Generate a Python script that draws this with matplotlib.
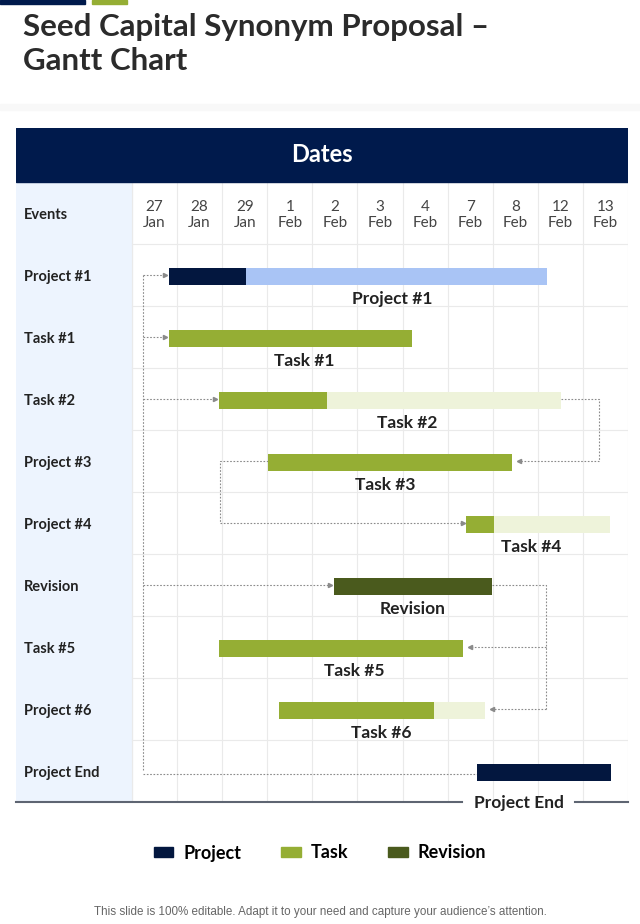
import matplotlib
matplotlib.use("Agg")
import matplotlib.pyplot as plt
from matplotlib.patches import Rectangle, Patch

plt.rcParams["font.family"] = ["Lato", "DejaVu Sans"]

# ---- data (column units: 0 = left edge of "27 Jan") ----
dates = ["27\nJan", "28\nJan", "29\nJan", "1\nFeb", "2\nFeb", "3\nFeb",
         "4\nFeb", "7\nFeb", "8\nFeb", "12\nFeb", "13\nFeb"]
rows = ["Project #1", "Task #1", "Task #2", "Project #3", "Project #4",
        "Revision", "Task #5", "Project #6", "Project End"]
bar_labels = ["Project #1", "Task #1", "Task #2", "Task #3", "Task #4",
              "Revision", "Task #5", "Task #6", "Project End"]
kinds = ["project", "task", "task", "task", "task", "revision", "task",
         "task", "project"]
bar_start = [0.82, 0.82, 1.93, 3.02, 7.41, 4.48, 1.93, 3.26, 7.65]
bar_done = [2.53, 6.21, 4.32, 8.43, 8.03, 7.98, 7.34, 6.70, 10.62]
bar_end = [9.20, 6.21, 9.51, 8.43, 10.60, 7.98, 7.34, 7.83, 10.62]
label_x = [5.77, 3.81, 6.10, 5.61, 8.85, 6.23, 4.92, 5.52, 8.58]

NAVY = "#001A4C"
done_col = {"project": "#03173F", "task": "#95AE34", "revision": "#4A5A1D"}
rest_col = {"project": "#A9C4F5", "task": "#EEF3DA", "revision": "#4A5A1D"}
GRID = "#EAEAEA"
LINK = "#8A8A8A"

fig = plt.figure(figsize=(6.4, 9.24), dpi=100)
W, H = 640, 924

# decorations on top
fig.patches.append(Rectangle((0, 1 - 4 / H), 85 / W, 4 / H, transform=fig.transFigure,
                             color=NAVY, zorder=0))
fig.patches.append(Rectangle((92 / W, 1 - 4 / H), 35 / W, 4 / H, transform=fig.transFigure,
                             color="#95AE34", zorder=0))
fig.patches.append(Rectangle((0, 1 - 110 / H), 1, 6 / H, transform=fig.transFigure,
                             color="#F8F8F8", zorder=0))
fig.text(23 / W, 1 - 27 / H, "Seed Capital Synonym Proposal \u2013", fontsize=22.5,
         fontweight="bold", color="#2B2B2B", va="center", ha="left")
fig.text(23 / W, 1 - 61 / H, "Gantt Chart", fontsize=22.5,
         fontweight="bold", color="#2B2B2B", va="center", ha="left")

LW = 116 / 45.09
ax = fig.add_axes([16 / W, 1 - 802 / H, 612 / W, 674 / H])
ax.set_xlim(-LW, 11)
ax.set_ylim(9, -1.871)
ax.axis("off")

# header band
ax.add_patch(Rectangle((-LW, -1.871), 11 + LW, 0.871, color=NAVY, zorder=1))
ax.text((11 - LW) / 2, -1.436, "Dates", color="white", fontsize=17,
        fontweight="bold", ha="center", va="center", zorder=2)
# label column
ax.add_patch(Rectangle((-LW, -1), LW, 10, color="#EDF4FE", zorder=0))
# grid
for i in range(12):
    ax.plot([i, i], [-1, 9], color=GRID, lw=0.8, zorder=0.5)
for r in range(9):
    ax.plot([0, 11], [r, r], color=GRID, lw=0.8, zorder=0.5)

ax.text(-LW + 8 / 45.09, -0.47, "Events", fontsize=10.5, fontweight="bold",
        color="#222222", ha="left", va="center")
for i, d in enumerate(dates):
    ax.text(i + 0.5, -0.47, d, fontsize=11, color="#444444", ha="center",
            va="center", linespacing=1.2)

BH = 0.27
for r, name in enumerate(rows):
    yc = r + 0.5
    ax.text(-LW + 8 / 45.09, yc + 0.04, name, fontsize=10.5, fontweight="bold",
            color="#222222", ha="left", va="center")
    k = kinds[r]
    ax.barh(yc + 0.02, bar_done[r] - bar_start[r], left=bar_start[r], height=BH,
            color=done_col[k], zorder=3)
    if bar_end[r] > bar_done[r]:
        ax.barh(yc + 0.02, bar_end[r] - bar_done[r], left=bar_done[r], height=BH,
                color=rest_col[k], zorder=3)
    if r < 8:
        ax.text(label_x[r], yc + 0.39, bar_labels[r], fontsize=12.5,
                fontweight="bold", color="#222222", ha="center", va="center", zorder=4)

# bottom rule with "Project End"
ax.plot([-LW, 7.31], [9, 9], color="#5E6572", lw=1.5, clip_on=False, zorder=4)
ax.plot([9.82, 11], [9, 9], color="#5E6572", lw=1.5, clip_on=False, zorder=4)
ax.text(label_x[8], 9.02, bar_labels[8], fontsize=12.5, fontweight="bold",
        color="#222222", ha="center", va="center", zorder=4)


def link(xs, ys, arrow=None):
    ax.plot(xs, ys, color=LINK, lw=0.8, ls=(0, (1.5, 1.5)), zorder=2)
    if arrow:
        ax.plot(xs[-1], ys[-1], marker=arrow, ms=3, color=LINK, zorder=2)


cy = [r + 0.5 for r in range(9)]
trunk = 0.24
link([trunk, trunk], [cy[0], cy[8]])
for r in [0, 1, 2, 5]:
    link([trunk, bar_start[r] - 0.08], [cy[r], cy[r]], ">")
link([trunk, bar_start[8]], [cy[8] + 0.05, cy[8] + 0.05])
# Task #2 -> Task #3
x2 = 10.36
link([bar_end[2], x2, x2, bar_end[3] + 0.16], [cy[2], cy[2], cy[3], cy[3]], "<")
# Task #3 -> Task #4
x3 = 1.95
link([bar_start[3], x3, x3, bar_start[4] - 0.08], [cy[3], cy[3], cy[4], cy[4]], ">")
# Revision -> Task #5 / Task #6
x5 = 9.18
link([bar_end[5], x5, x5], [cy[5], cy[5], cy[7]])
link([x5, bar_end[6] + 0.16], [cy[6], cy[6]], "<")
link([x5, bar_end[7] + 0.16], [cy[7], cy[7]], "<")

handles = [Patch(color=done_col[k]) for k in ["project", "task", "revision"]]
fig.legend(handles, ["Project", "Task", "Revision"], loc="center",
           bbox_to_anchor=(0.5, 1 - 853 / H), ncol=3, frameon=False,
           prop={"size": 13, "weight": "bold"}, handlelength=1.1,
           handleheight=0.45, handletextpad=0.55, columnspacing=2.2)

fig.text(0.5, 1 - 912 / H,
         "This slide is 100% editable. Adapt it to your need and capture your audience\u2019s attention.",
         fontsize=8.4, color="#666666", ha="center", va="center",
         family=["Liberation Sans", "DejaVu Sans"])

fig.savefig("out.png", dpi=100)
